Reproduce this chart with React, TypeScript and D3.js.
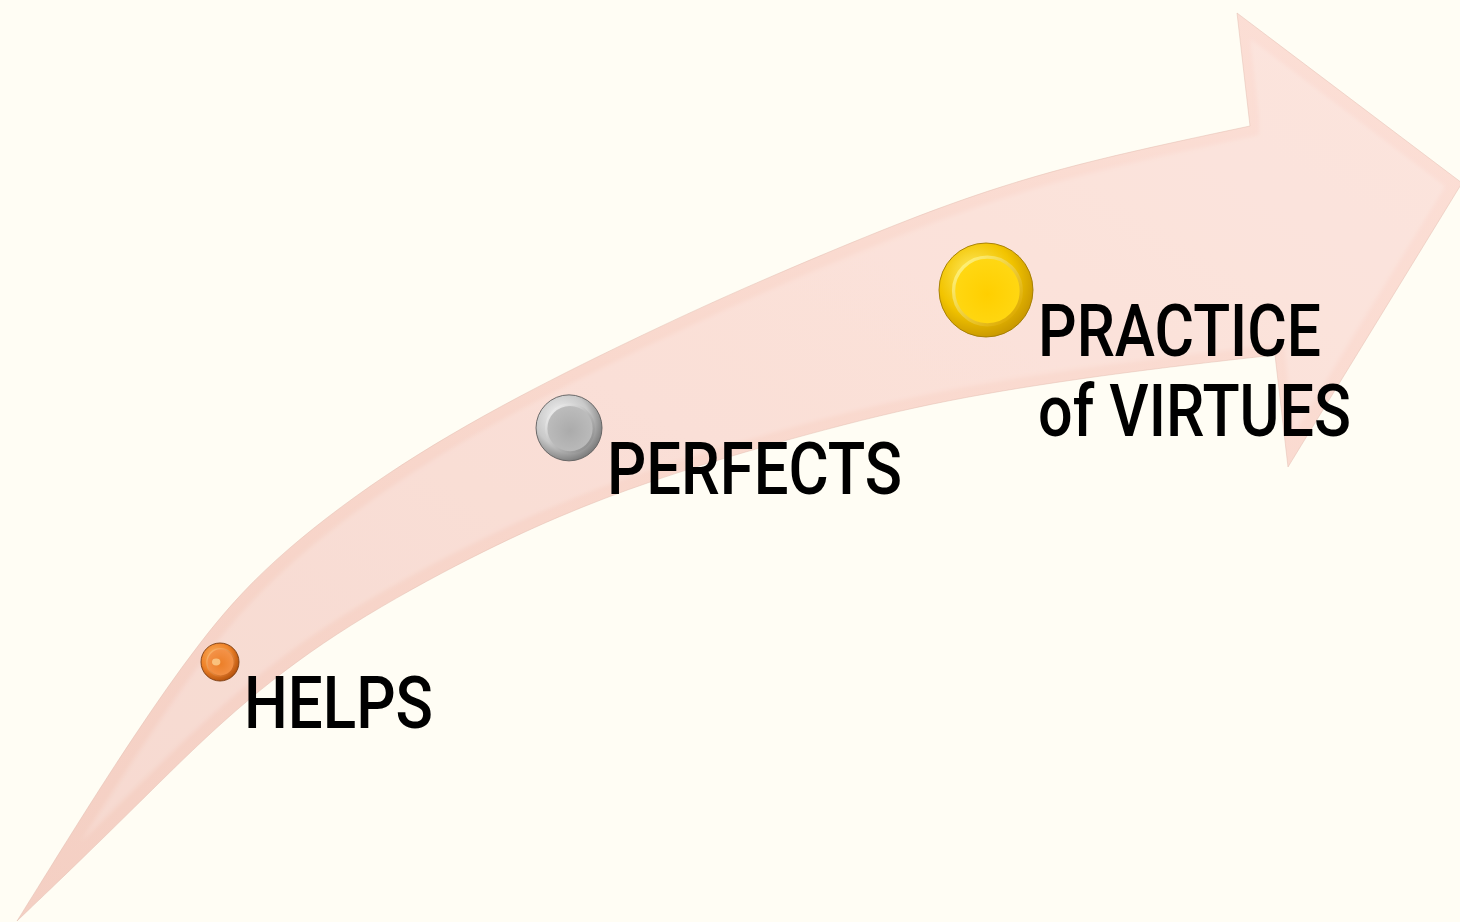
import React from "react";
import * as d3 from "d3";

const W = 1460;
const H = 922;

// Diagram content
const stepLabels = ["HELPS", "PERFECTS", "PRACTICE of VIRTUES"];
const stepLines = [["HELPS"], ["PERFECTS"], ["PRACTICE", "of VIRTUES"]];
const stepOrder = [0, 1, 2];
const stepLevel = [1, 2, 3];
const stepFinish = ["bronze", "silver", "gold"];

// Arrow outline (layout)
const upperEdge: [number, number][] = [
  [17, 921], [50, 868], [83, 815], [133, 737], [200, 640], [267, 563],
  [385, 472], [517, 396], [650, 331], [750, 285], [900, 222], [1000, 186],
  [1100, 158], [1250, 126],
];
const headPts: [number, number][] = [[1237, 13], [1462, 183], [1288, 467]];
const lowerEdge: [number, number][] = [
  [1275, 355], [1167, 367], [1033, 385], [900, 409], [750, 450], [650, 481],
  [560, 515], [460, 562], [333, 633], [233, 710], [150, 792], [83, 858], [17, 921],
];
const textLen: Record<string, number> = {
  HELPS: 189, PERFECTS: 295, PRACTICE: 283, "of VIRTUES": 313,
};

const finishes: Record<string, any> = {
  bronze: { o: ["#F9B060", "#EE8228", "#B4520E"], i: ["#F4934A", "#EC7F28"], ring: ["#FBB36A", "#C9621A"], edge: "#7A3C10" },
  silver: { o: ["#F2F2F2", "#C9C9C9", "#7C7C7C"], i: ["#BDBDBD", "#ABABAB"], ring: ["#EDEDED", "#8E8E8E"], edge: "#5E5E5E" },
  gold: { o: ["#FFEA60", "#F2C400", "#C99800"], i: ["#FFD814", "#FFCF00"], ring: ["#FFF27A", "#DDAA00"], edge: "#A07A00" },
};

export default function App() {
  const xScale = d3.scalePow().exponent(1.134).domain([0, 2]).range([220, 986]);
  const yScale = d3.scalePow().exponent(0.668).domain([0, 2]).range([662, 290]);
  const rScale = d3.scaleLinear().domain([1, 3]).range([19, 47]);

  const edgeLine = d3.line().curve(d3.curveBasis);
  const upperPath = edgeLine(upperEdge) as string;
  const lowerPath = (edgeLine(lowerEdge) as string).replace(/^M/, "L");
  const headPath = headPts.map((p) => `L${p[0]},${p[1]}`).join("");
  const arrowPath = `${upperPath}${headPath}${lowerPath}Z`;

  return (
    <svg width={W} height={H} style={{ position: "absolute", left: 0, top: 0 }}>
      <defs>
        <linearGradient id="arrowFill" x1="0" y1="1" x2="1" y2="0">
          <stop offset="0" stopColor="#F4CFC3" />
          <stop offset="0.5" stopColor="#F9D8CD" />
          <stop offset="1" stopColor="#FCDFD6" />
        </linearGradient>
        <filter id="bevel" x="-5%" y="-5%" width="110%" height="110%">
          <feMorphology in="SourceAlpha" operator="erode" radius="9" result="er" />
          <feGaussianBlur in="er" stdDeviation="2" result="bl" />
          <feFlood floodColor="#FFFFFF" floodOpacity="0.18" />
          <feComposite in2="bl" operator="in" result="hl" />
          <feMerge>
            <feMergeNode in="SourceGraphic" />
            <feMergeNode in="hl" />
          </feMerge>
        </filter>
        {Object.keys(finishes).map((k) => {
          const f = finishes[k];
          return (
            <React.Fragment key={k}>
              <radialGradient id={`o-${k}`} cx="0.42" cy="0.4" r="0.62" fx="0.35" fy="0.3">
                <stop offset="0" stopColor={f.o[0]} />
                <stop offset="0.65" stopColor={f.o[1]} />
                <stop offset="1" stopColor={f.o[2]} />
              </radialGradient>
              <radialGradient id={`i-${k}`} cx="0.5" cy="0.55" r="0.55">
                <stop offset="0" stopColor={f.i[1]} />
                <stop offset="1" stopColor={f.i[0]} />
              </radialGradient>
              <linearGradient id={`r-${k}`} x1="0.1" y1="0.1" x2="0.9" y2="0.9">
                <stop offset="0" stopColor={f.ring[0]} />
                <stop offset="1" stopColor={f.ring[1]} />
              </linearGradient>
            </React.Fragment>
          );
        })}
      </defs>
      <rect x={0} y={0} width={W} height={H} fill="#FFFDF4" />
      <path d={arrowPath} fill="url(#arrowFill)" filter="url(#bevel)" />
      <path d={arrowPath} fill="none" stroke="#E2BCAF" strokeWidth={0.8} strokeOpacity={0.6} />

      {stepOrder.map((i) => {
        const cx = xScale(i);
        const cy = yScale(i);
        const r = rScale(stepLevel[i]);
        const k = stepFinish[i];
        const tx = cx + r + 5;
        const ty = cy + 66;
        return (
          <g key={stepLabels[i]}>
            <circle cx={cx} cy={cy} r={r} fill={`url(#o-${k})`} stroke={finishes[k].edge} strokeWidth={0.9} />
            <circle
              cx={cx + r * 0.03}
              cy={cy + r * 0.02}
              r={r * 0.72}
              fill={`url(#i-${k})`}
              stroke={`url(#r-${k})`}
              strokeWidth={Math.max(1.2, r * 0.07)}
            />
            {k === "bronze" && (
              <ellipse cx={cx - r * 0.2} cy={cy} rx={r * 0.22} ry={r * 0.18} fill="#FDD090" opacity={0.8} />
            )}
            <text
              x={tx}
              y={ty}
              fontFamily="Roboto, 'DejaVu Sans', sans-serif"
              fontWeight={500}
              fontSize={73}
              fill="#000"
            >
              {stepLines[i].map((ln, j) => (
                <tspan
                  key={ln}
                  x={tx}
                  y={ty + j * 80}
                  textLength={textLen[ln]}
                  lengthAdjust="spacingAndGlyphs"
                >
                  {ln}
                </tspan>
              ))}
            </text>
          </g>
        );
      })}
    </svg>
  );
}
